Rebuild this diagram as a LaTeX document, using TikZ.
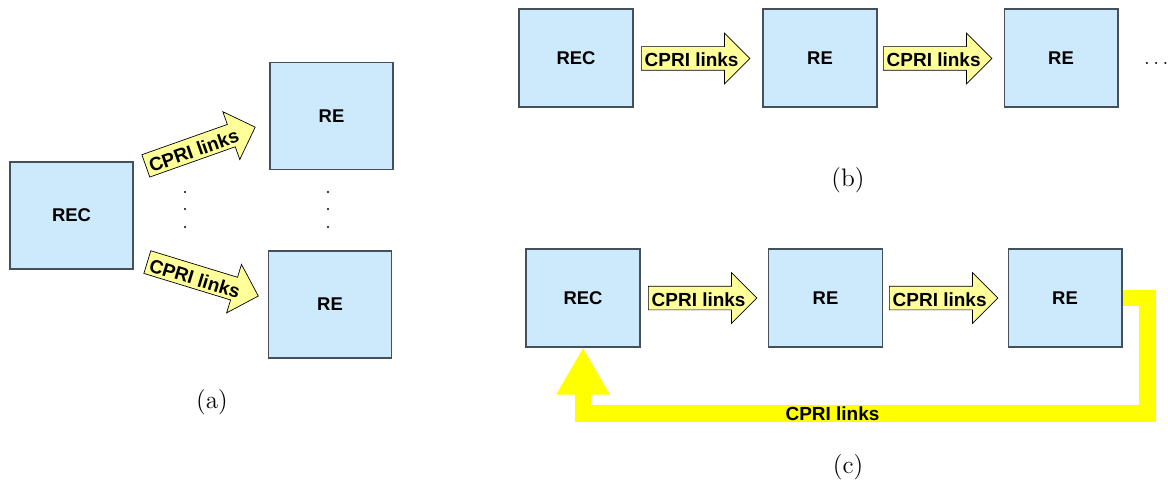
\documentclass[tikz,border=0pt]{standalone}
\usepackage{fontspec}
\usepackage{tikz}
\usetikzlibrary{shapes.arrows,arrows.meta}
\newfontfamily\arialfont{Liberation Sans}
\definecolor{boxblue}{RGB}{204,234,251}
\definecolor{boxline}{RGB}{70,80,90}
\definecolor{linkyellow}{RGB}{255,255,153}
\definecolor{ringyellow}{RGB}{255,255,0}
\newcommand{\cprilabel}[1][1.8cm]{\makebox[#1][l]{CPRI links}}

\begin{document}
\begin{tikzpicture}[x=0.02cm,y=-0.02cm,
  unit/.style={draw=boxline,line width=0.6pt,fill=boxblue,minimum width=2.28cm,minimum height=1.96cm,font=\arialfont\bfseries\fontsize{10.5}{12}\selectfont},
  bigunit/.style={unit,minimum width=2.46cm,minimum height=2.14cm},
  link/.style={single arrow,draw=black,line width=0.4pt,fill=linkyellow,single arrow head extend=0.27cm,inner xsep=0.06cm,inner ysep=0.02cm,text height=0.38cm,text depth=0.04cm,font=\arialfont\bfseries\fontsize{10.8}{12}\selectfont,anchor=tail},
  caption/.style={font=\Large},
  ring/.style={draw=ringyellow,line width=0.33cm,line join=miter,-{Triangle[length=0.94cm,width=1cm]}}]
\useasboundingbox (0,0) rectangle (1168,486);
\node[bigunit] (arec) at (71.5,215.5) {REC};
\node[bigunit] (are1) at (331.5,116) {RE};
\node[bigunit] (are2) at (330,304.5) {RE};
\node[link,rotate=19.5] (alink1) at (145.5,166) {\cprilabel[1.95cm]};
\node[link,rotate=-17] (alink2) at (147,262) {\cprilabel[1.95cm]};
\foreach \y in {192,209,227} {
  \fill (185,\y) circle (0.7pt);
  \fill (328,\y) circle (0.7pt);
}
\node[caption] (acap) at (212,402) {(a)};

\node[unit] (brec) at (576,58) {REC};
\node[unit] (bre1) at (820,58) {RE};
\node[unit] (bre2) at (1061,58) {RE};
\node[link] (blink1) at (641,58.5) {\cprilabel};
\node[link] (blink2) at (883,58.5) {\cprilabel};
\node[font=\fontsize{13}{15}\selectfont,anchor=base west] (bdots) at (1138,65) {$\ldots$};
\node[caption] (bcap) at (848,180) {(b)};

\node[unit] (crec) at (583,298) {REC};
\node[unit] (cre1) at (825.5,298) {RE};
\node[unit] (cre2) at (1065,298) {RE};
\node[link] (clink1) at (648,298) {\cprilabel};
\node[link] (clink2) at (889,298) {\cprilabel};
\coordinate (cturn) at (1147.5,413.5);
\draw[ring] (cre2.east) -| (cturn) -| node[pos=0.279,font=\arialfont\bfseries\fontsize{10.8}{12}\selectfont] (cring) {CPRI links} (crec.south);
\node[caption] (ccap) at (848,467) {(c)};
\end{tikzpicture}
\end{document}
